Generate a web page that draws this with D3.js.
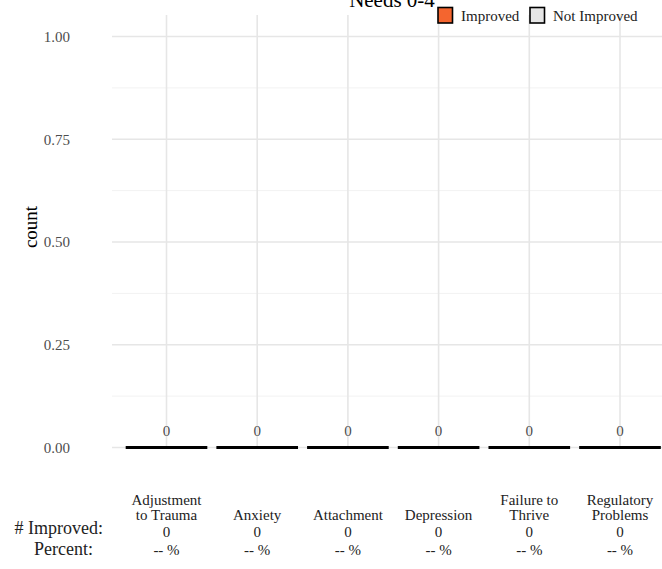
<!DOCTYPE html>
<html><head><meta charset="utf-8">
<script src="https://cdn.jsdelivr.net/npm/d3@7"></script>
<style>body{margin:0;background:#fff}svg{display:block}text{font-family:"Liberation Serif","DejaVu Serif",serif}</style>
</head><body>
<svg id="c" width="662" height="569"></svg>
<script>
const title = "Needs 0-4";
const categories = [["Adjustment","to Trauma"],["Anxiety"],["Attachment"],["Depression"],["Failure to","Thrive"],["Regulatory","Problems"]];
const improved = [0,0,0,0,0,0];
const notImproved = [0,0,0,0,0,0];
const percentLabels = ["-- %","-- %","-- %","-- %","-- %","-- %"];
const yTicks = [0,0.25,0.5,0.75,1];
const yMinor = [0.125,0.375,0.625,0.875];
const legendItems = [{label:"Improved",color:"#f4652f"},{label:"Not Improved",color:"#e5e5e5"}];

const svg = d3.select("#c");
const names = categories.map(c=>c.join(" "));
const x = d3.scalePoint().domain(names).range([166.5,620]);
const y = d3.scaleLinear().domain([0,1]).range([447.5,36.5]);
const panelL = 112, panelR = 662, panelT = 15, panelB = 448;

// minor grid
svg.append("g").selectAll("line").data(yMinor).join("line")
  .attr("x1",panelL).attr("x2",panelR).attr("y1",d=>y(d)).attr("y2",d=>y(d))
  .attr("stroke","#f2f2f2").attr("stroke-width",1);
// major grid
svg.append("g").selectAll("line").data(yTicks).join("line")
  .attr("x1",panelL).attr("x2",panelR).attr("y1",d=>y(d)).attr("y2",d=>y(d))
  .attr("stroke","#e6e6e6").attr("stroke-width",1.6);
svg.append("g").selectAll("line").data(names).join("line")
  .attr("x1",d=>x(d)).attr("x2",d=>x(d)).attr("y1",panelT).attr("y2",panelB)
  .attr("stroke","#e6e6e6").attr("stroke-width",1.6);

// y axis
const yAxis = d3.axisLeft(y).tickValues(yTicks).tickFormat(d3.format(".2f")).tickSize(0).tickPadding(0);
const ga = svg.append("g").attr("transform","translate(70,0)").call(yAxis);
ga.select(".domain").remove();
ga.selectAll("text").attr("font-size",15).attr("fill","#4d4d4d").attr("font-family","Liberation Serif");

svg.append("text").attr("transform","translate(37,227) rotate(-90)")
  .attr("text-anchor","middle").attr("font-size",19).attr("fill","#000").text("count");

// bars (stacked zero)
const bw = x.step()*0.9;
const data = names.map((n,i)=>({n, imp:improved[i], not:notImproved[i]}));
svg.append("g").selectAll("rect").data(data).join("rect")
  .attr("x",d=>x(d.n)-bw/2).attr("width",bw)
  .attr("y",d=>y(d.imp+d.not)-1.5).attr("height",d=>y(0)-y(d.imp+d.not)+3)
  .attr("fill","#000");

// count labels
svg.append("g").selectAll("text").data(data).join("text")
  .attr("x",d=>x(d.n)).attr("y",d=>y(d.imp+d.not)-12)
  .attr("text-anchor","middle").attr("font-size",15).attr("fill","#4d4d4d")
  .text(d=>d.imp+d.not);

// title
svg.append("text").attr("x",392).attr("y",7).attr("text-anchor","middle")
  .attr("font-size",21).attr("fill","#000").text(title);

// legend
const lx = [438,530];
legendItems.forEach((it,i)=>{
  svg.append("rect").attr("x",lx[i]).attr("y",7.5).attr("width",14.5).attr("height",15.5)
    .attr("fill",it.color).attr("stroke","#000").attr("stroke-width",1.6);
  svg.append("text").attr("x",lx[i]+23).attr("y",21).attr("font-size",15).attr("fill","#222").text(it.label);
});

// bottom table
const tbl = svg.append("g");
categories.forEach((c,i)=>{
  const cx = x(names[i]);
  const lines = c;
  lines.forEach((ln,j)=>{
    const yy = 520 - (lines.length-1-j)*15;
    tbl.append("text").attr("x",cx).attr("y",yy).attr("text-anchor","middle")
      .attr("font-size",15).attr("fill","#222").text(ln);
  });
  tbl.append("text").attr("x",cx).attr("y",537).attr("text-anchor","middle")
    .attr("font-size",15).attr("fill","#222").text(improved[i]);
  tbl.append("text").attr("x",cx).attr("y",555).attr("text-anchor","middle")
    .attr("font-size",15).attr("fill","#222").text(percentLabels[i]);
});
tbl.append("text").attr("x",103).attr("y",534).attr("text-anchor","end")
  .attr("font-size",18).attr("fill","#222").text("# Improved:");
tbl.append("text").attr("x",93).attr("y",555).attr("text-anchor","end")
  .attr("font-size",18).attr("fill","#222").text("Percent:");
</script>
</body></html>
